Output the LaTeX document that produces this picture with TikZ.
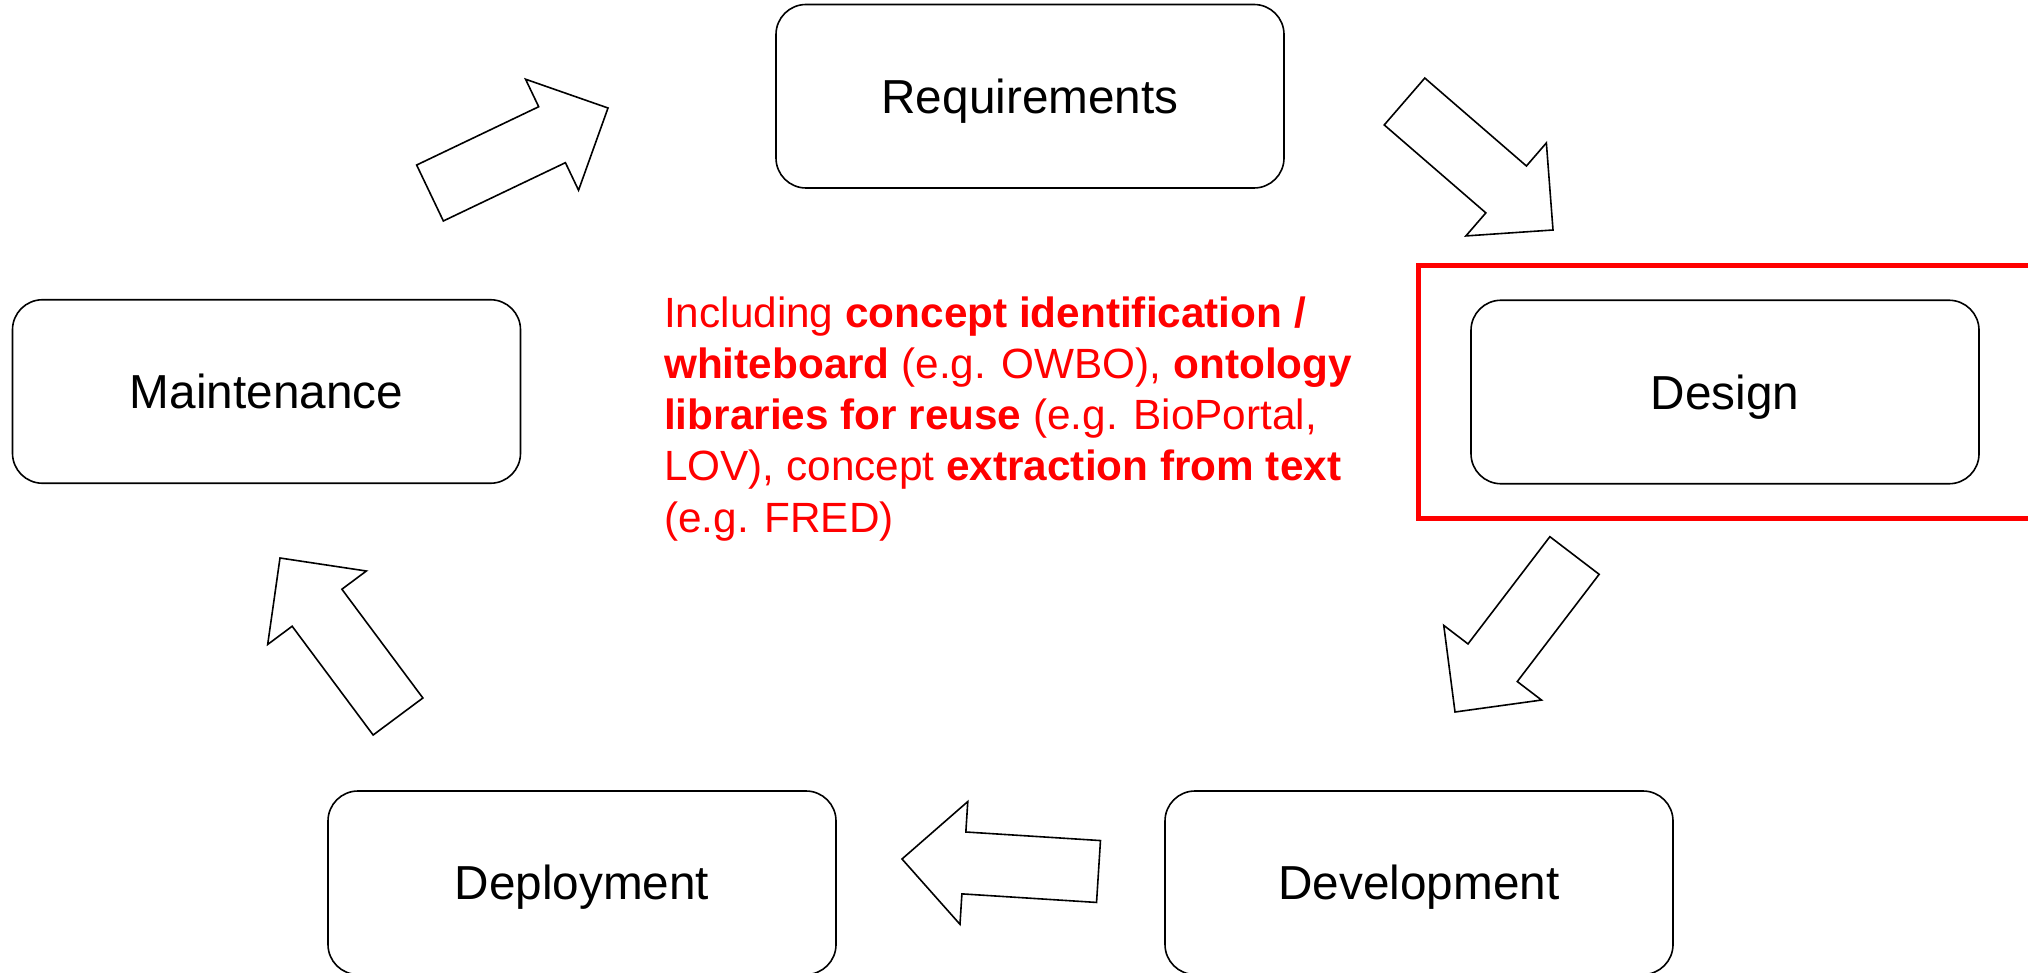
\documentclass[tikz,border=0pt]{standalone}
\usepackage{fontspec}
\setmainfont{Liberation Sans}
\usetikzlibrary{calc}
\definecolor{hlred}{RGB}{255,0,0}
\tikzset{
  stage/.style={draw=black, line width=1.6pt, rounded corners=30pt,
    minimum width=508pt, minimum height=183.5pt, inner sep=0pt,
    text height=34.2pt, text depth=0pt,
    font=\fontsize{47.7}{57}\selectfont},
  blockarrow/.style={draw=black, line width=1.6pt, fill=white, line join=miter},
  highlight/.style={draw=hlred, line width=5pt, minimum width=622pt,
    minimum height=252pt, inner sep=0pt},
  note/.style={text=hlred, inner sep=0pt, anchor=base west,
    font=\fontsize{42.3}{51.3}\selectfont}
}
% block arrow from tail coordinate #1 to tip coordinate #2
\newcommand\stagearrow[2]{%
  \path ($(#2)!62pt!(#1)$) coordinate (sa-base);
  \draw[blockarrow]
    ($(#1)!31pt!90:(#2)$) -- ($(sa-base)!31pt!-90:(#1)$)
    -- ($(sa-base)!61.5pt!-90:(#1)$) -- (#2)
    -- ($(sa-base)!61.5pt!90:(#1)$) -- ($(sa-base)!31pt!90:(#1)$)
    -- ($(#1)!31pt!-90:(#2)$) -- cycle;
}
\begin{document}
\begin{tikzpicture}[x=1pt,y=-1pt]
\useasboundingbox (0,0) rectangle (2028,973);
\clip (0,0) rectangle (2028,973);
\fill[white] (0,0) rectangle (2028,973);

% highlight frame around the design stage
\node[highlight] (focus) at (1729,392) {};

% stages of the cycle
\node[stage] (req) at (1030,96.25) {Requirements};
\node[stage] (design) at (1725,392) {Design};
\node[stage] (dev) at (1419,882.75) {Development};
\node[stage] (deploy) at (582,882.75) {Deployment};
\node[stage] (maint) at (266.5,391.5) {Maintenance};

% arrow end points
\coordinate (a1t) at (430,193);      \coordinate (a1h) at (608,108);
\coordinate (a2t) at (1404.5,101.5); \coordinate (a2h) at (1553,230);
\coordinate (a3t) at (1574.5,555.5); \coordinate (a3h) at (1455,712);
\coordinate (a4t) at (1098.5,871.5); \coordinate (a4h) at (902,859);
\coordinate (a5t) at (398,716.5);    \coordinate (a5h) at (280,558);

\stagearrow{a1t}{a1h}
\stagearrow{a2t}{a2h}
\stagearrow{a3t}{a3h}
\stagearrow{a4t}{a4h}
\stagearrow{a5t}{a5h}

% note on the design stage
\node[note] (info) at (664,327) {\begin{tabular}[t]{@{}l@{}}
Including \textbf{concept identification /}\\
\textbf{whiteboard} (e.g. OWBO), \textbf{ontology}\\
\textbf{libraries for reuse} (e.g. BioPortal,\\
LOV), concept \textbf{extraction from text}\\
(e.g. FRED)
\end{tabular}};
\end{tikzpicture}
\end{document}
